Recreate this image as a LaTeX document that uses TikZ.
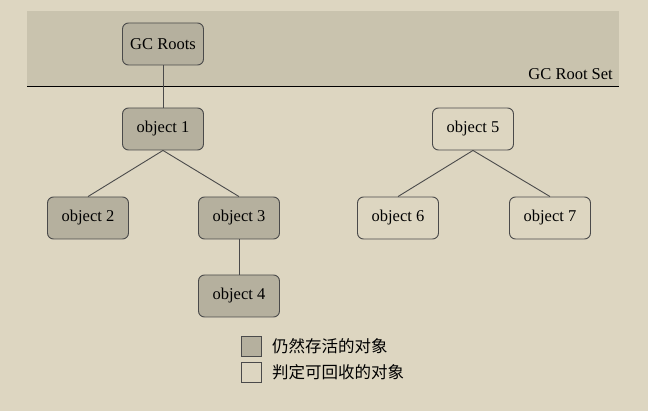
\documentclass[tikz,border=0pt]{standalone}
\usepackage{fontspec}
\setmainfont{Liberation Serif}
\newfontfamily\cjk{Noto Sans CJK SC}
\definecolor{bgc}{HTML}{DDD6C1}
\definecolor{bandc}{HTML}{C9C3AE}
\definecolor{livec}{HTML}{B5B09E}
\definecolor{edgec}{HTML}{4A4A4A}
\begin{document}
\begin{tikzpicture}[x=1pt,y=-1pt,
  obj/.style={draw=edgec, line width=0.9pt, rounded corners=6pt, minimum width=81pt, minimum height=42pt, inner sep=0pt, font=\fontsize{16.5}{19}\selectfont},
  live/.style={obj, fill=livec},
  dead/.style={obj, fill=bgc},
  conn/.style={draw=edgec, line width=0.9pt},
  legbox/.style={draw=edgec, line width=0.9pt, minimum width=20pt, minimum height=20pt, inner sep=0pt},
  legtext/.style={anchor=west, inner sep=0pt, font=\cjk\fontsize{16.5}{19}\selectfont}]
\fill[bgc] (0,0) rectangle (648,411);
\useasboundingbox (0,0) rectangle (648,411);
\fill[bandc] (27,11) rectangle (619,86);
\coordinate (bandL) at (27,86);
\coordinate (bandR) at (619,86);
\draw[black, line width=0.9pt] (bandL) -- (bandR);
\node[anchor=base east, inner sep=0pt, font=\fontsize{16.5}{19}\selectfont] (setlbl) at (613,80) {GC Root Set};
\node[live] (roots) at (163,44) {GC Roots};
\node[live] (o1) at (163,129) {object 1};
\node[live] (o2) at (88,218) {object 2};
\node[live] (o3) at (239,218) {object 3};
\node[live] (o4) at (239,296) {object 4};
\node[dead] (o5) at (473,129) {object 5};
\node[dead] (o6) at (398,218) {object 6};
\node[dead] (o7) at (550,218) {object 7};
\draw[conn] (roots.south) -- (o1.north);
\draw[conn] (o1.south) -- (o2.north);
\draw[conn] (o1.south) -- (o3.north);
\draw[conn] (o3.south) -- (o4.north);
\draw[conn] (o5.south) -- (o6.north);
\draw[conn] (o5.south) -- (o7.north);
\node[legbox, fill=livec] (lg1) at (251,346) {};
\node[legbox, fill=bgc] (lg2) at (251,372) {};
\node[legtext] (lt1) at (272,346) {仍然存活的对象};
\node[legtext] (lt2) at (272,372) {判定可回收的对象};
\end{tikzpicture}
\end{document}
